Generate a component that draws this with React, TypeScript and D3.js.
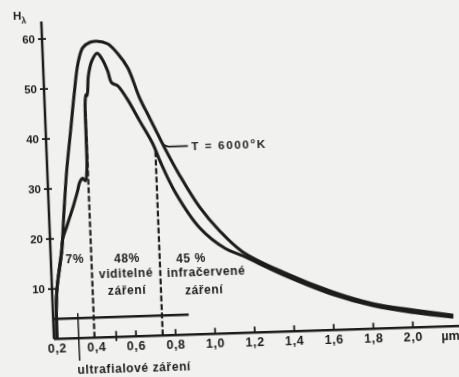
import React, { useEffect, useRef } from "react"
import * as d3 from "d3"

// black body, T = 6000 K  (wavelength in µm, H_λ)
const bodyWave = [0.2, 0.208, 0.242, 0.259, 0.283, 0.311, 0.339, 0.361, 0.389, 0.425, 0.461, 0.516, 0.564, 0.612, 0.666, 0.713, 0.783, 0.851, 0.947, 1.044, 1.155, 1.354, 1.603, 1.804, 2.005, 2.206]
const bodyH = [0, 9.2, 17.5, 24.5, 33.5, 41.5, 49.5, 54.8, 58.0, 59.0, 59.2, 58.6, 56.6, 53.7, 47.6, 43.5, 37.4, 32.0, 25.4, 20.5, 16.2, 11.9, 7.6, 5.0, 3.5, 2.2]

// sun outside the atmosphere
const sunWave = [0.2, 0.208, 0.241, 0.249, 0.277, 0.31, 0.334, 0.347, 0.362, 0.376, 0.385, 0.388, 0.39, 0.396, 0.401, 0.412, 0.432, 0.46, 0.483, 0.51, 0.528, 0.557, 0.6, 0.662, 0.724, 0.756, 0.826, 0.945, 1.068, 1.155, 1.354, 1.603, 1.804, 2.005, 2.206]
const sunH = [0, 9.2, 17.5, 19.9, 22.9, 26.5, 29.4, 31.2, 31.9, 31.4, 33.5, 40, 47, 48.6, 48.4, 52.4, 55.3, 56.8, 55.7, 53.2, 50.8, 50.2, 47.7, 43, 38.3, 34.9, 28.6, 21.2, 17.0, 15.4, 11.4, 7.1, 4.6, 3.0, 1.8]

const yTicks = [10, 20, 30, 40, 50, 60]
const xLabels = [0.2, 0.4, 0.6, 0.8, 1.0, 1.2, 1.4, 1.6, 1.8, 2.0]
const xTickMarks = [0.5, 0.6, 0.8, 1.0, 1.2, 1.4, 1.6, 1.8, 2.0]
const bandLimits = [0.39, 0.735]
const uvLimit = 0.31
const shares = ["7%", "48%", "45 %"]
const visibleName = ["viditelné", "záření"]
const infraName = ["infračervené", "záření"]
const uvName = "ultrafialové záření"

const W = 459
const H = 377
const font = "'Liberation Sans', Arial, sans-serif"

export default function App() {
  const ref = useRef<SVGSVGElement>(null)

  useEffect(() => {
    const svg = d3.select(ref.current)
    svg.selectAll("*").remove()

    const x = d3.scaleLinear().domain([0.185, 2.0]).range([54, 413])
    const y = d3.scaleLinear().domain([0, 60]).range([339, 39])
    const sunAt = d3.scaleLinear(sunWave, sunH)
    const bodyAt = d3.scaleLinear(bodyWave, bodyH)

    svg.append("rect").attr("width", W).attr("height", H).attr("fill", "#f1f1f0")

    const defs = svg.append("defs")
    defs.append("filter").attr("id", "scan")
      .append("feGaussianBlur").attr("stdDeviation", 0.65)

    // the scan is a bit skewed
    const g = svg.append("g")
      .attr("filter", "url(#scan)")
      .attr("transform", "translate(54,339) matrix(1,-0.032,0.04,1,0,0) translate(-54,-339)")
      .attr("font-family", font)
      .attr("font-weight", "bold")
      .attr("fill", "#1c1c1c")

    const ink = "#1e1e1e"

    // axes
    g.append("line").attr("x1", 54).attr("x2", 54).attr("y1", y(0)).attr("y2", y(63.5))
      .attr("stroke", ink).attr("stroke-width", 2.5)
    g.append("line").attr("x1", 54).attr("x2", 475).attr("y1", y(0)).attr("y2", y(0))
      .attr("stroke", ink).attr("stroke-width", 2.5)

    g.selectAll(".ytick").data(yTicks).join("line")
      .attr("x1", 50).attr("x2", 58)
      .attr("y1", d => y(d)).attr("y2", d => y(d))
      .attr("stroke", ink).attr("stroke-width", 1.8)
    g.selectAll(".ylab").data(yTicks).join("text")
      .attr("x", 47).attr("y", d => y(d))
      .attr("text-anchor", "end").attr("dominant-baseline", "central")
      .attr("font-size", 11.5)
      .text(d => d)

    const yl = g.append("text").attr("x", 26).attr("y", 19).attr("font-size", 11.5)
    yl.append("tspan").text("H")
    yl.append("tspan").attr("font-size", 8.5).attr("dy", 4).text("λ")

    g.selectAll(".xtick").data(xTickMarks).join("line")
      .attr("x1", d => x(d)).attr("x2", d => x(d))
      .attr("y1", d => (d === 0.5 ? y(0) + 4 : y(0))).attr("y2", y(0) - 6)
      .attr("stroke", ink).attr("stroke-width", 1.8)
    g.selectAll(".xlab").data(xLabels).join("text")
      .attr("x", d => x(d)).attr("y", 349)
      .attr("text-anchor", "middle").attr("dominant-baseline", "central")
      .attr("font-size", 12.5).attr("letter-spacing", 0.6)
      .text(d => d3.format(".1f")(d).replace(".", ","))
    g.append("text").attr("x", 441).attr("y", 349)
      .attr("dominant-baseline", "central").attr("font-size", 12.5)
      .text("µm")

    // base line of the bands and the uv pointer
    g.append("line").attr("x1", 54).attr("x2", x(0.87)).attr("y1", y(4)).attr("y2", y(4))
      .attr("stroke", ink).attr("stroke-width", 2.3)
    g.append("line").attr("x1", x(uvLimit)).attr("x2", x(uvLimit)).attr("y1", y(5)).attr("y2", y(-4.5))
      .attr("stroke", ink).attr("stroke-width", 1.5)

    // band limits
    g.selectAll(".band").data(bandLimits).join("line")
      .attr("x1", d => x(d)).attr("x2", d => x(d))
      .attr("y1", y(0)).attr("y2", d => y(sunAt(d)))
      .attr("stroke", ink).attr("stroke-width", 2.2)
      .attr("stroke-dasharray", "6,2.5")

    // spectra
    const line = d3.line().curve(d3.curveCatmullRom.alpha(0.5))
    const bodyPts = bodyWave.map((w, i) => [x(w), y(bodyH[i])] as [number, number])
    const sunPts = sunWave.map((w, i) => [x(w), y(sunH[i])] as [number, number])
    g.append("path").attr("d", line(bodyPts))
      .attr("fill", "none").attr("stroke", ink).attr("stroke-width", 3.1)
    g.append("path").attr("d", line(sunPts))
      .attr("fill", "none").attr("stroke", ink).attr("stroke-width", 3.1)

    // T label with pointer
    const p0 = 0.775
    g.append("path")
      .attr("d", `M${x(p0)},${y(bodyAt(p0))} L${x(0.8)},${y(37.7)} L${x(0.9)},${y(37.7)}`)
      .attr("fill", "none").attr("stroke", ink).attr("stroke-width", 1.7)
    const tl = g.append("text").attr("x", x(0.917)).attr("y", y(37.7))
      .attr("dominant-baseline", "central").attr("font-size", 11.5).attr("letter-spacing", 1.7)
    tl.append("tspan").text("T = 6000")
    tl.append("tspan").attr("font-size", 7.5).attr("dy", -4).text("o")
    tl.append("tspan").attr("dy", 4).text("K")

    // band texts
    const label = (t: string, cx: number, cy: number) =>
      g.append("text").attr("x", cx).attr("y", cy)
        .attr("text-anchor", "middle").attr("dominant-baseline", "central")
        .attr("font-size", 12).attr("letter-spacing", 0.6)
        .text(t)

    label(shares[0], 78, 259.7)
    label(shares[1], 130, 260.3)
    label(visibleName[0], 128.6, 275.5)
    label(visibleName[1], 128.9, 292.3)
    label(shares[2], 194, 262.4)
    label(infraName[0], 208.6, 277)
    label(infraName[1], 206, 294.8)
    label(uvName, 133, 370.6)
  }, [])

  return (
    <svg
      ref={ref}
      width={W}
      height={H}
      style={{ position: "absolute", left: 0, top: 0, display: "block" }}
    />
  )
}
